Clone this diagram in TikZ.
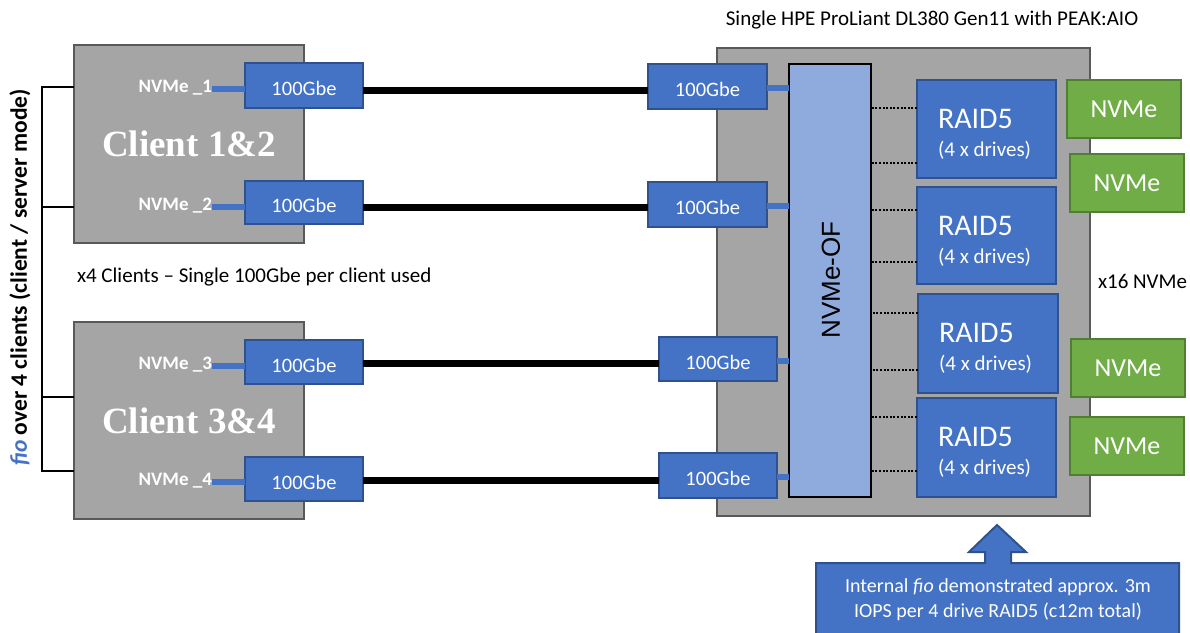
\documentclass[tikz,border=0pt]{standalone}
\usepackage{fontspec}
\setmainfont{Carlito}
\newfontfamily\serifbold{Liberation Serif}
\newfontfamily\arialike{Liberation Sans}
\usetikzlibrary{calc}
\definecolor{boxgray}{HTML}{A5A5A5}
\definecolor{edgegray}{HTML}{595959}
\definecolor{linkblue}{HTML}{4472C4}
\definecolor{darkblue}{HTML}{2F528F}
\definecolor{fabric}{HTML}{8FAADC}
\definecolor{drivegreen}{HTML}{70AD47}
\definecolor{darkgreen}{HTML}{507E32}
\newcommand\pxsize[2]{\fontsize{#1}{#2}\selectfont}
\begin{document}
\begin{tikzpicture}[x=1pt,y=-1pt,
  every node/.style={inner sep=0pt,outer sep=0pt},
  host/.style={draw=edgegray,fill=boxgray,line width=2.5pt},
  hostname/.style={text=white,font=\serifbold\bfseries\pxsize{37}{40}},
  nic/.style={draw=darkblue,fill=linkblue,line width=2pt,text=white,
    font=\pxsize{20.5}{24},text height=20pt,text depth=0pt},
  port/.style={anchor=east,text=white,font=\bfseries\pxsize{19}{22},
    text height=6pt,text depth=0pt},
  stub/.style={draw=linkblue,line width=6pt},
  link/.style={draw=black,line width=7pt},
  fabricbox/.style={draw=black,fill=fabric,line width=2.5pt},
  raid/.style={draw=darkblue,fill=linkblue,line width=2pt},
  raidtitle/.style={anchor=west,text=white,font=\pxsize{30}{34}},
  raidsub/.style={anchor=west,text=white,font=\pxsize{21}{24}},
  drive/.style={draw=darkgreen,fill=drivegreen,line width=2.5pt,text=white,
    font=\pxsize{26}{30},minimum width=114,minimum height=58},
  dotlink/.style={draw=black,line width=2pt,dash pattern=on 2pt off 1.6pt},
  bracket/.style={draw=black,line width=2pt},
  caption/.style={font=\pxsize{21}{25}}
]
\useasboundingbox (0,0) rectangle (1190,632);
\clip (0,0) rectangle (1190,632);
\fill[white] (0,0) rectangle (1190,632);

% ---- client hosts ----
\node[host,minimum width=230,minimum height=198] (c12) at (189,144) {};
\node[host,minimum width=230,minimum height=197] (c34) at (189,420.5) {};
\node[hostname] (c12name) at (c12) {Client 1\&2};
\node[hostname] (c34name) at (c34) {Client 3\&4};

\node[nic,minimum width=118,minimum height=45] (g1) at (304,85.5) {100Gbe};
\node[nic,minimum width=118,minimum height=43] (g2) at (304,202.5) {100Gbe};
\node[nic,minimum width=118,minimum height=44] (g3) at (304,362) {100Gbe};
\node[nic,minimum width=118,minimum height=44] (g4) at (304,479) {100Gbe};

\node[port] (p1) at (212,89) {NVMe \_1};
\node[port] (p2) at (212,207) {NVMe \_2};
\node[port] (p3) at (212,366) {NVMe \_3};
\node[port] (p4) at (212,482) {NVMe \_4};

% ---- storage server ----
\node[host,minimum width=373,minimum height=468] (srv) at (903.5,282) {};
\node[caption] (srvtitle) at (932,20) {Single HPE ProLiant DL380 Gen11 with PEAK:AIO};

\node[nic,minimum width=119,minimum height=45] (s1) at (707.5,86.5) {100Gbe};
\node[nic,minimum width=119,minimum height=45] (s2) at (707.5,204.5) {100Gbe};
\node[nic,minimum width=118,minimum height=44] (s3) at (718,359) {100Gbe};
\node[nic,minimum width=118,minimum height=45] (s4) at (718,475.5) {100Gbe};

\node[fabricbox,minimum width=82,minimum height=433] (of) at (830,280.5) {};
\node[rotate=90,font=\arialike\pxsize{26}{30}] (oflabel) at (831,280) {NVMe-OF};

\node[raid,minimum width=139,minimum height=98] (r1) at (986.5,129) {};
\node[raid,minimum width=139,minimum height=97] (r2) at (986.5,235.5) {};
\node[raid,minimum width=140,minimum height=99] (r3) at (988,343.5) {};
\node[raid,minimum width=139,minimum height=99] (r4) at (986.5,447.5) {};
\foreach \r in {r1,r2,r3,r4}{
  \node[raidtitle] (\r a) at ($(\r.north west)+(21,39)$) {RAID5};
  \node[raidsub] (\r b) at ($(\r.north west)+(21,70)$) {(4 x drives)};
}

\node[drive] (v1) at (1124,109) {NVMe};
\node[drive] (v2) at (1127,183) {NVMe};
\node[drive] (v3) at (1128,368) {NVMe};
\node[drive] (v4) at (1127,446) {NVMe};

\node[caption,anchor=west] (count) at (1098,281) {x16 NVMe};
\node[caption,anchor=west] (clients) at (77,277) {x4 Clients – Single 100Gbe per client used};
\node[rotate=90,font=\bfseries\pxsize{23.5}{28}] (fiolabel) at (20,277.5)
  {\textcolor{linkblue}{\itshape fio} over 4 clients (client / server mode)};

% ---- connectors ----
\foreach \i/\dy in {1/4.5,2/4.5,3/1,4/1}{
  \draw[stub] (p\i.east) -- (p\i.east -| g\i.west);
  \draw[link] ($(g\i.east)+(0,\dy)$) -- ($(g\i.east -| s\i.west)+(0,\dy)$);
  \draw[stub] ($(s\i.east)+(0,1.5)$) -- ($(s\i.east -| of.west)+(0,1.5)$);
}
\draw[dotlink] ($(r1.west)+(0,-21)$) -- ($(r1.west -| of.east)+(0,-21)$);
\draw[dotlink] ($(r1.west)+(0,34)$) -- ($(r1.west -| of.east)+(0,34)$);
\draw[dotlink] ($(r2.west)+(0,-25.5)$) -- ($(r2.west -| of.east)+(0,-25.5)$);
\draw[dotlink] ($(r2.west)+(0,26.5)$) -- ($(r2.west -| of.east)+(0,26.5)$);
\draw[dotlink] ($(r3.west)+(0,-30.5)$) -- ($(r3.west -| of.east)+(0,-30.5)$);
\draw[dotlink] ($(r3.west)+(0,26.5)$) -- ($(r3.west -| of.east)+(0,26.5)$);
\draw[dotlink] ($(r4.west)+(0,-30.5)$) -- ($(r4.west -| of.east)+(0,-30.5)$);
\draw[dotlink] ($(r4.west)+(0,23.5)$) -- ($(r4.west -| of.east)+(0,23.5)$);

% bracket grouping the four fio clients
\draw[bracket] ($(c12.west)+(0,-57)$) -- ++(-32,0) -- ($(c34.west)+(-32,50.5)$) -- ($(c34.west)+(0,50.5)$);
\draw[bracket] ($(c12.west)+(0,63)$) -- ++(-32,0);
\draw[bracket] ($(c34.west)+(0,-23.5)$) -- ++(-32,0);

% ---- callout with upward arrow ----
\draw[draw=darkblue,fill=linkblue,line width=2pt]
  (816,563) -- (985,563) -- (985,552) -- (969,552) -- (997,525) -- (1026,552)
  -- (1011,552) -- (1011,563) -- (1179,563) -- (1179,650) -- (816,650) -- cycle;
\node[text=white,font=\pxsize{20}{25},align=center] (note) at (998,600)
  {Internal \textit{fio} demonstrated approx. 3m\\IOPS per 4 drive RAID5 (c12m total)};
\end{tikzpicture}
\end{document}
